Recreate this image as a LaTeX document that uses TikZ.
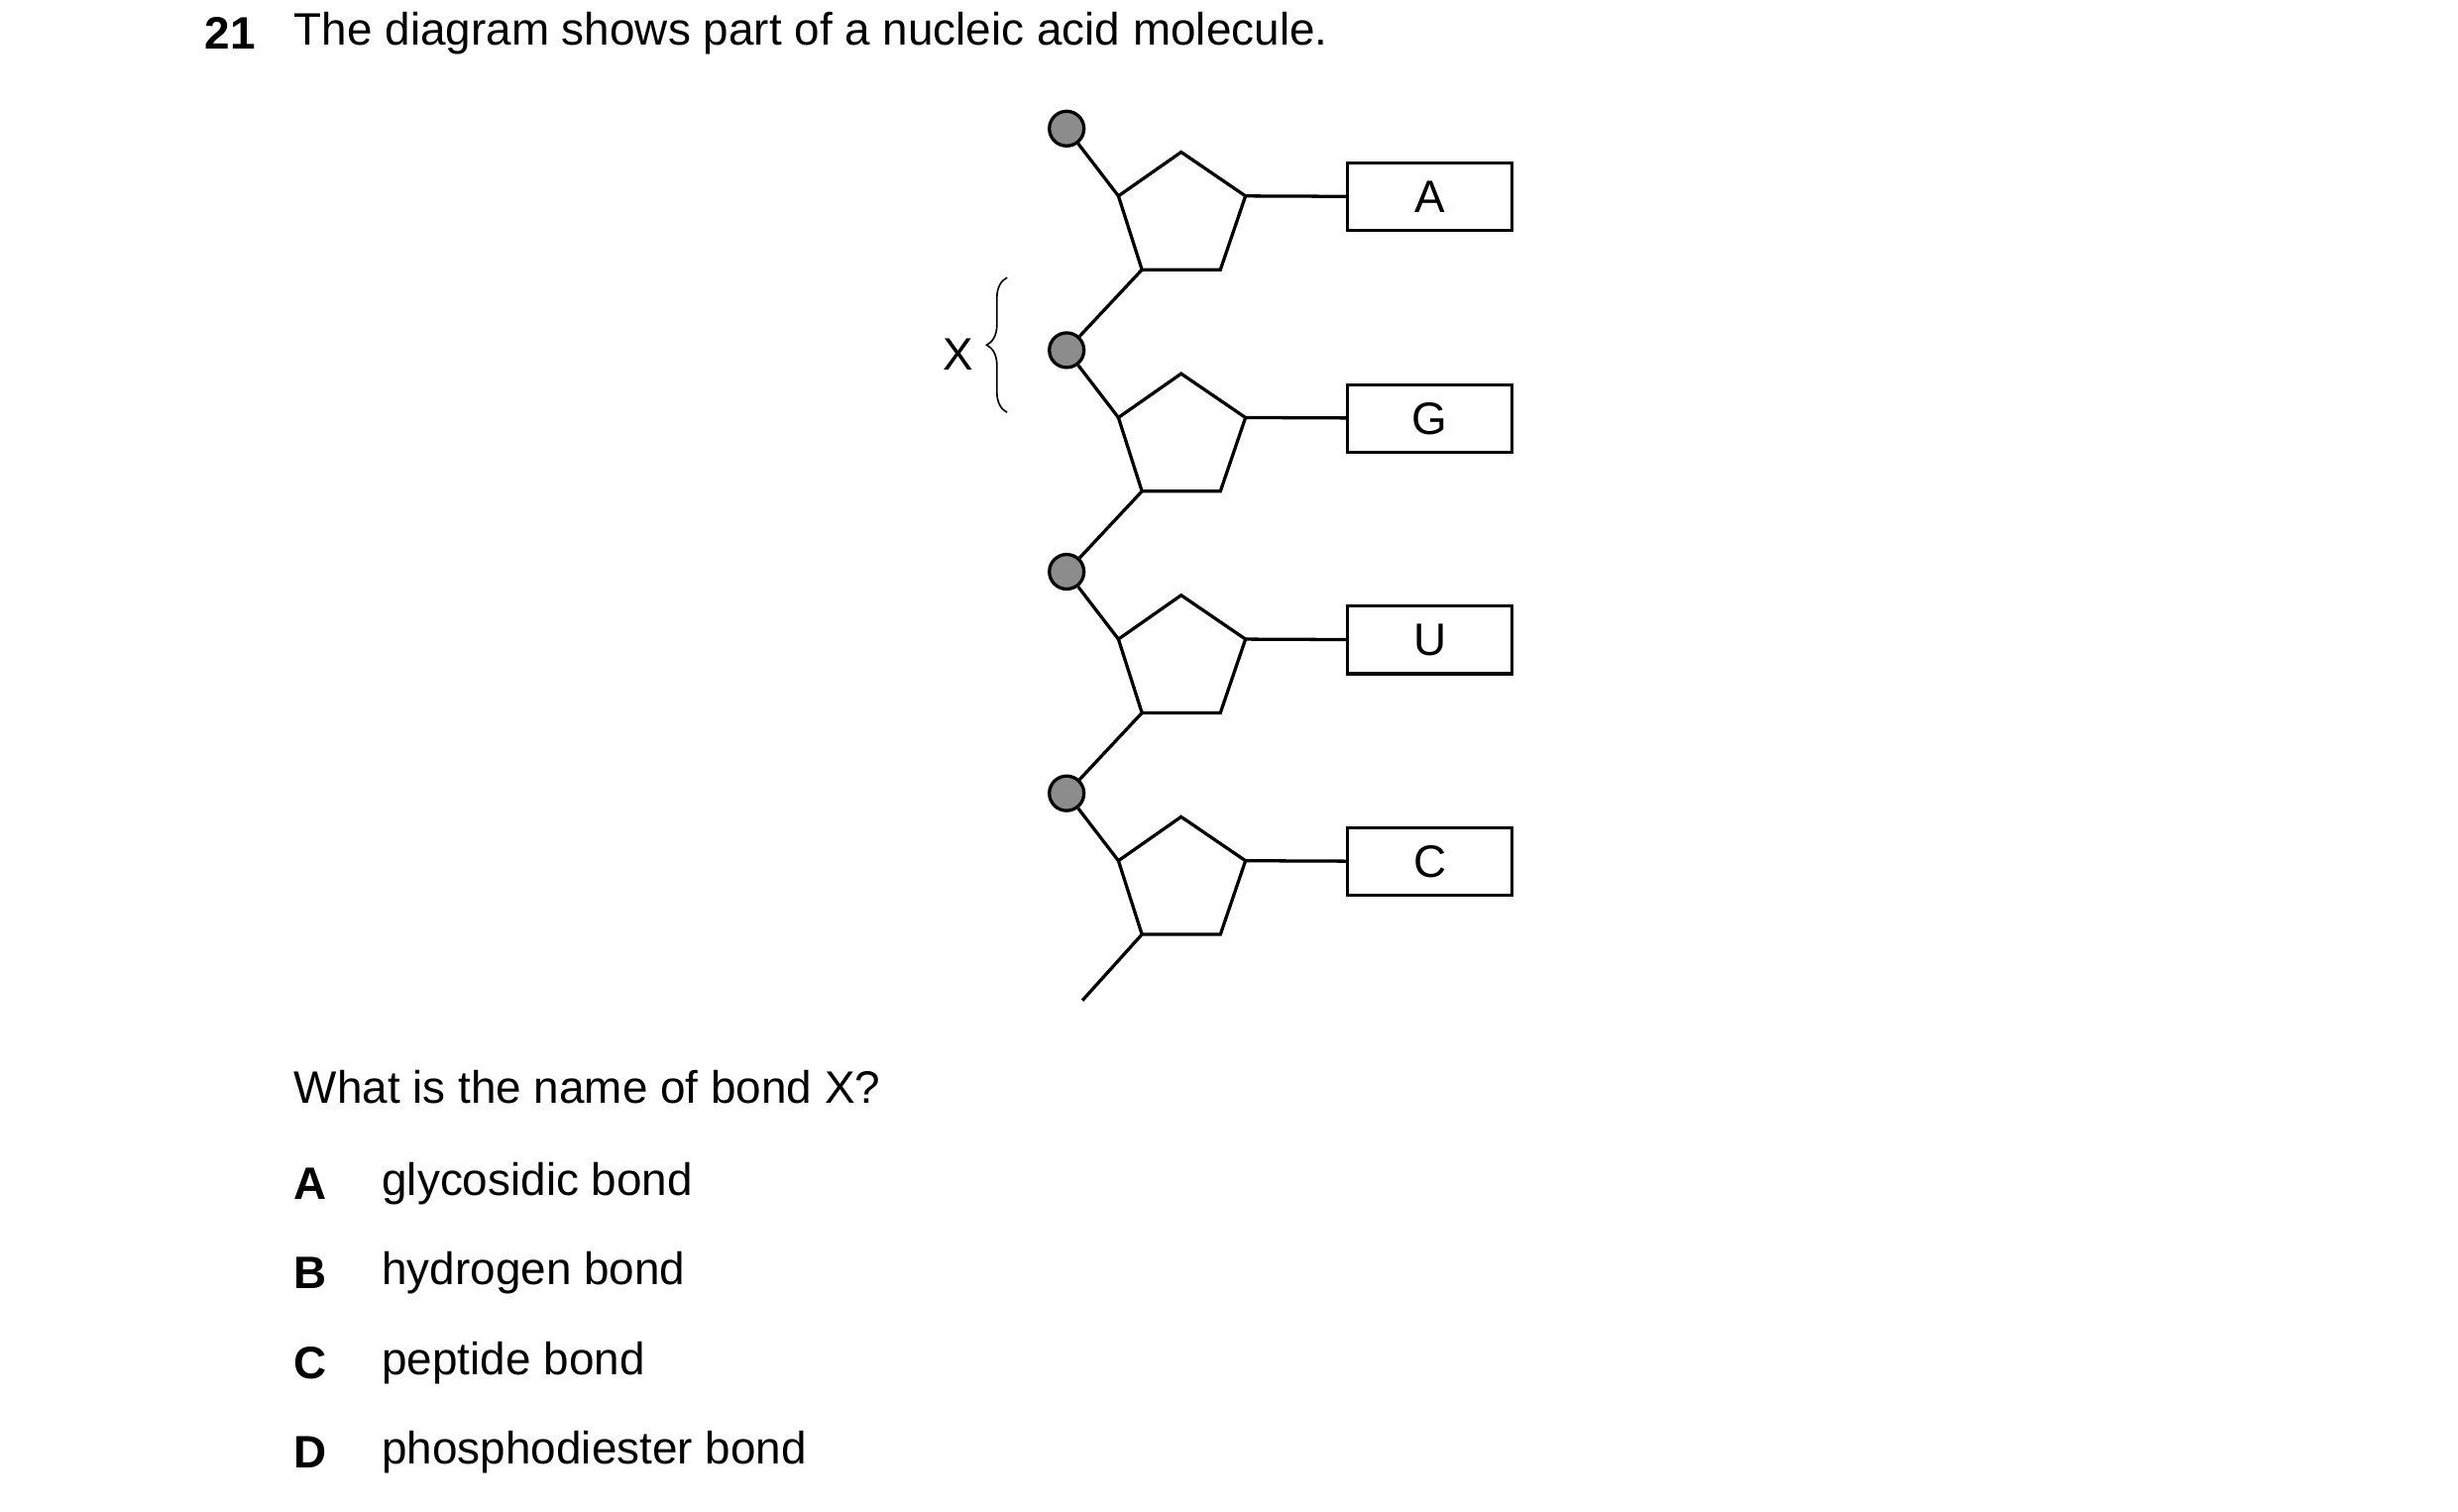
\documentclass[tikz,border=0pt]{standalone}
\usepackage{fontspec}
\setmainfont{Liberation Sans}
\usetikzlibrary{positioning,decorations.pathreplacing}
\tikzset{phos/.style={circle,draw,thick,fill=black!45,minimum size=3mm,inner sep=0pt},
	base/.style={draw,thick,rectangle,minimum width=14.26mm,minimum height=5.84mm,inner sep=0pt,font=\fontsize{11.2}{13}\selectfont},
	bond/.style={thick},
	txt/.style={anchor=west,inner sep=0pt,font=\fontsize{11.2}{13}\selectfont}}
\begin{document}
\begin{tikzpicture}[x=0.1358mm,y=-0.1358mm]
\useasboundingbox (0,0) rectangle (1567,964);
\node[txt,font=\fontsize{11.2}{13}\selectfont\bfseries] (num) at (130,21) {21};
\node[txt] (title) at (187,21) {The diagram shows part of a nucleic acid molecule.};

\foreach \b [count=\i from 0] in {A,G,U,C} {
	\pgfmathsetmacro{\dy}{141.3*\i}
	\node[phos] (p\i) at (680,82+\dy) {};
	\coordinate (t\i) at (753,97+\dy);
	\coordinate (r\i) at (794,125+\dy);
	\coordinate (br\i) at (778,172+\dy);
	\coordinate (bl\i) at (728,172+\dy);
	\coordinate (l\i) at (713,125+\dy);
	\node[base] (b\i) at (911.5,125.5+\dy) {\b};
	\draw[bond] (t\i) -- (r\i) -- (br\i) -- (bl\i) -- (l\i) -- cycle;
	\draw[bond] (p\i) -- (l\i);
	\draw[bond] (r\i) -- (b\i);
}
\draw[bond] (bl0) -- (p1);
\draw[bond] (bl1) -- (p2);
\draw[bond] (bl2) -- (p3);
\coordinate (tail) at (690,638);
\draw[bond] (bl3) -- (tail);

% bond X
\draw[decorate,decoration={brace,amplitude=5pt}] (642,263) -- (642,177);
\node[font=\fontsize{11.2}{13}\selectfont] (X) at (611,226) {X};

\node[txt] (q) at (187,693) {What is the name of bond X?};
\foreach \l/\t/\y in {A/glycosidic bond/755,B/hydrogen bond/812,C/peptide bond/869,D/phosphodiester bond/926} {
	\node[txt,font=\fontsize{11.2}{13}\selectfont\bfseries] (k\l) at (187,\y) {\l};
	\node[txt] (o\l) at (243,\y) {\t};
}
\end{tikzpicture}
\end{document}
